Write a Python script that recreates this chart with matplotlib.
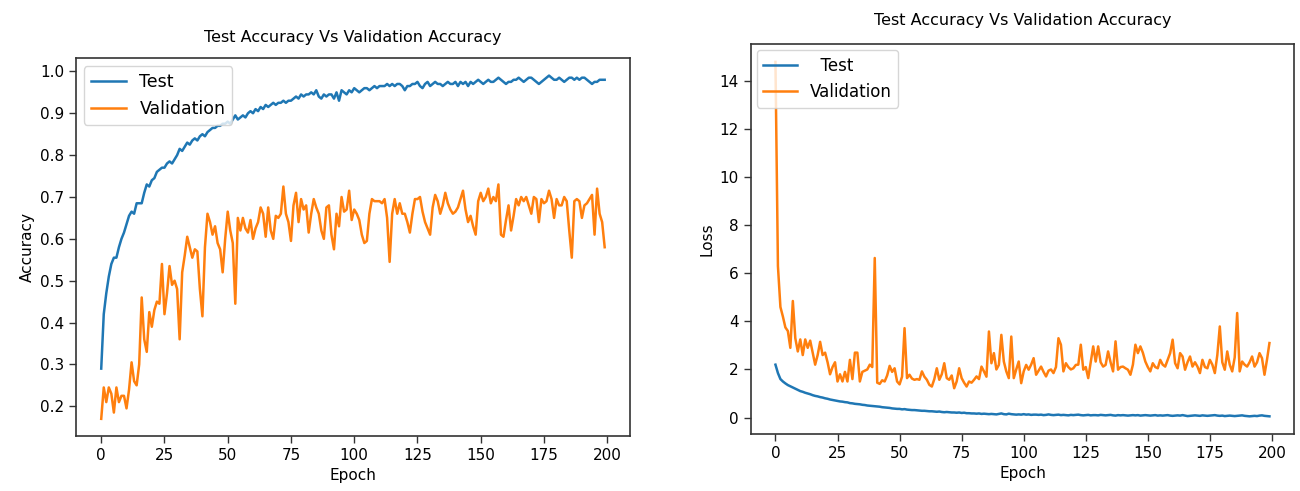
import matplotlib
matplotlib.use("Agg")
import matplotlib.pyplot as plt

epochs = list(range(200))

test_acc = [
    0.29, 0.42, 0.47, 0.51, 0.54, 0.555, 0.555, 0.58, 0.60, 0.615,
    0.635, 0.655, 0.665, 0.66, 0.685, 0.685, 0.685, 0.71, 0.73, 0.725,
    0.74, 0.745, 0.76, 0.765, 0.77, 0.77, 0.78, 0.785, 0.78, 0.79,
    0.80, 0.815, 0.81, 0.82, 0.83, 0.825, 0.835, 0.84, 0.835, 0.845,
    0.85, 0.845, 0.855, 0.86, 0.865, 0.865, 0.87, 0.87, 0.875, 0.875,
    0.88, 0.875, 0.885, 0.895, 0.885, 0.89, 0.895, 0.89, 0.90, 0.905,
    0.90, 0.91, 0.905, 0.915, 0.91, 0.92, 0.915, 0.92, 0.925, 0.92,
    0.925, 0.925, 0.93, 0.925, 0.93, 0.93, 0.935, 0.94, 0.935, 0.945,
    0.94, 0.945, 0.945, 0.95, 0.945, 0.955, 0.94, 0.935, 0.945, 0.94,
    0.945, 0.945, 0.935, 0.95, 0.93, 0.955, 0.95, 0.945, 0.955, 0.95,
    0.96, 0.955, 0.95, 0.955, 0.96, 0.96, 0.955, 0.96, 0.965, 0.96,
    0.965, 0.965, 0.965, 0.97, 0.965, 0.97, 0.965, 0.97, 0.97, 0.965,
    0.955, 0.965, 0.965, 0.97, 0.97, 0.975, 0.965, 0.96, 0.97, 0.975,
    0.965, 0.97, 0.975, 0.97, 0.97, 0.965, 0.97, 0.975, 0.97, 0.97,
    0.975, 0.965, 0.975, 0.97, 0.975, 0.965, 0.975, 0.97, 0.975, 0.98,
    0.975, 0.97, 0.975, 0.98, 0.975, 0.975, 0.98, 0.985, 0.98, 0.975,
    0.97, 0.975, 0.975, 0.98, 0.98, 0.985, 0.98, 0.975, 0.98, 0.985,
    0.985, 0.98, 0.975, 0.97, 0.975, 0.98, 0.985, 0.99, 0.985, 0.98,
    0.98, 0.985, 0.98, 0.975, 0.98, 0.985, 0.985, 0.98, 0.985, 0.98,
    0.985, 0.985, 0.98, 0.975, 0.97, 0.975, 0.975, 0.98, 0.98, 0.98,
]

val_acc = [
    0.17, 0.245, 0.21, 0.245, 0.23, 0.185, 0.245, 0.21, 0.225, 0.225,
    0.195, 0.24, 0.305, 0.26, 0.25, 0.30, 0.46, 0.36, 0.33, 0.425,
    0.39, 0.43, 0.45, 0.445, 0.54, 0.42, 0.47, 0.535, 0.49, 0.50,
    0.48, 0.36, 0.52, 0.56, 0.605, 0.58, 0.555, 0.575, 0.57, 0.48,
    0.415, 0.58, 0.66, 0.64, 0.61, 0.63, 0.59, 0.575, 0.52, 0.60,
    0.665, 0.62, 0.59, 0.445, 0.65, 0.62, 0.65, 0.625, 0.615, 0.645,
    0.60, 0.625, 0.64, 0.675, 0.66, 0.605, 0.675, 0.62, 0.60, 0.655,
    0.65, 0.66, 0.725, 0.66, 0.64, 0.595, 0.68, 0.71, 0.64, 0.695,
    0.67, 0.68, 0.615, 0.66, 0.695, 0.675, 0.66, 0.62, 0.60, 0.675,
    0.68, 0.61, 0.575, 0.66, 0.63, 0.70, 0.665, 0.67, 0.715, 0.645,
    0.67, 0.66, 0.645, 0.61, 0.59, 0.595, 0.66, 0.695, 0.69, 0.69,
    0.69, 0.685, 0.695, 0.65, 0.545, 0.66, 0.695, 0.66, 0.685, 0.66,
    0.66, 0.64, 0.615, 0.66, 0.695, 0.695, 0.70, 0.665, 0.64, 0.625,
    0.61, 0.675, 0.705, 0.69, 0.66, 0.68, 0.71, 0.685, 0.67, 0.66,
    0.665, 0.675, 0.695, 0.715, 0.67, 0.64, 0.655, 0.63, 0.61, 0.69,
    0.71, 0.69, 0.70, 0.72, 0.685, 0.70, 0.69, 0.73, 0.61, 0.605,
    0.645, 0.68, 0.62, 0.655, 0.695, 0.68, 0.70, 0.69, 0.70, 0.68,
    0.66, 0.70, 0.695, 0.64, 0.695, 0.685, 0.69, 0.715, 0.695, 0.65,
    0.695, 0.68, 0.68, 0.70, 0.69, 0.62, 0.555, 0.69, 0.695, 0.69,
    0.65, 0.68, 0.685, 0.695, 0.705, 0.61, 0.72, 0.66, 0.64, 0.58,
]

test_loss = [
    2.2, 1.85, 1.6, 1.5, 1.42, 1.35, 1.3, 1.25, 1.2, 1.15,
    1.1, 1.07, 1.03, 1.0, 0.97, 0.93, 0.9, 0.88, 0.85, 0.83,
    0.8, 0.78, 0.75, 0.73, 0.71, 0.69, 0.67, 0.66, 0.64, 0.63,
    0.6, 0.59, 0.57, 0.56, 0.55, 0.53, 0.52, 0.5, 0.49, 0.48,
    0.47, 0.46, 0.45, 0.43, 0.42, 0.41, 0.4, 0.38, 0.37, 0.36,
    0.36, 0.34, 0.35, 0.33, 0.32, 0.31, 0.31, 0.3, 0.29, 0.28,
    0.28, 0.27, 0.26, 0.26, 0.25, 0.24, 0.25, 0.23, 0.22, 0.23,
    0.22, 0.21, 0.21, 0.2, 0.21, 0.19, 0.2, 0.18, 0.18, 0.17,
    0.17, 0.16, 0.17, 0.15, 0.16, 0.15, 0.14, 0.15, 0.14, 0.13,
    0.15, 0.17, 0.14, 0.13, 0.16, 0.14, 0.13, 0.12, 0.13, 0.12,
    0.14, 0.12, 0.13, 0.11, 0.12, 0.12, 0.11, 0.12, 0.1, 0.11,
    0.13, 0.11, 0.1, 0.11, 0.12, 0.1, 0.11, 0.1, 0.09, 0.11,
    0.1, 0.11, 0.12, 0.1, 0.09, 0.1, 0.11, 0.09, 0.1, 0.1,
    0.09, 0.11, 0.1, 0.09, 0.1, 0.11, 0.09, 0.08, 0.1, 0.09,
    0.1, 0.09, 0.08, 0.09, 0.1, 0.09, 0.1, 0.08, 0.09, 0.1,
    0.09, 0.08, 0.09, 0.1, 0.08, 0.09, 0.08, 0.09, 0.1, 0.08,
    0.07, 0.08, 0.09, 0.08, 0.1, 0.08, 0.06, 0.07, 0.08, 0.09,
    0.08, 0.07, 0.09, 0.08, 0.07, 0.08, 0.09, 0.1, 0.08, 0.07,
    0.08, 0.06, 0.07, 0.08, 0.07, 0.06, 0.07, 0.08, 0.09, 0.07,
    0.06, 0.05, 0.06, 0.07, 0.06, 0.08, 0.09, 0.07, 0.06, 0.05,
]

val_loss = [
    14.8, 6.3, 4.6, 4.2, 3.75, 3.6, 2.9, 4.85, 3.3, 2.75,
    3.25, 2.6, 3.25, 2.9, 3.2, 2.7, 2.2, 2.6, 3.15, 2.6,
    2.7, 2.3, 1.8, 2.1, 2.3, 1.5, 1.8, 1.5, 1.9, 1.5,
    2.4, 1.6, 2.7, 2.7, 1.5, 1.9, 1.95, 2.0, 2.2, 2.1,
    6.64, 1.45, 1.4, 1.55, 1.5, 1.75, 2.15, 1.9, 2.05, 1.5,
    1.38, 1.7, 3.72, 1.64, 1.78, 1.62, 1.57, 1.6, 1.57, 1.92,
    1.7, 1.57, 1.36, 1.29, 1.6, 2.05, 1.57, 1.8, 2.26, 1.64,
    1.57, 1.75, 1.22, 1.5, 2.05, 1.64, 1.45, 1.29, 1.5, 1.45,
    1.57, 1.71, 1.6, 2.12, 1.92, 1.7, 3.58, 2.26, 2.68, 2.0,
    2.19, 3.44, 2.33, 1.92, 1.64, 3.37, 1.64, 2.0, 2.33, 1.43,
    1.92, 2.19, 1.99, 2.2, 2.47, 1.78, 1.95, 2.12, 1.9, 1.71,
    1.95, 2.0, 1.85, 2.1, 3.3, 3.03, 1.92, 2.26, 2.1, 2.0,
    2.05, 2.19, 2.2, 3.03, 1.99, 2.1, 1.64, 2.3, 2.96, 2.33,
    2.96, 2.3, 2.12, 2.19, 2.75, 2.3, 1.92, 3.17, 1.99, 2.1,
    2.12, 2.05, 1.99, 1.78, 2.2, 3.03, 2.68, 2.96, 2.7, 2.33,
    2.1, 1.92, 2.26, 2.1, 2.05, 2.4, 2.2, 2.12, 2.4, 2.68,
    3.24, 2.26, 2.05, 2.68, 2.54, 1.99, 2.3, 2.54, 2.12, 2.3,
    2.12, 1.85, 2.4, 2.1, 2.05, 2.4, 2.2, 1.85, 2.6, 3.79,
    2.3, 1.99, 2.75, 2.2, 1.92, 2.5, 4.35, 1.92, 2.33, 2.2,
    2.12, 2.3, 2.54, 2.12, 2.3, 2.68, 2.47, 1.78, 2.4, 3.1,
]

title = "Test Accuracy Vs Validation Accuracy"

fig = plt.figure(figsize=(13, 4.91), dpi=100)
ax1 = fig.add_axes([0.0585, 0.112, 0.426, 0.769])
ax2 = fig.add_axes([0.5775, 0.116, 0.418, 0.794])

for ax in (ax1, ax2):
    for s in ax.spines.values():
        s.set_color("#333333")
        s.set_linewidth(1.2)
    ax.tick_params(labelsize=11, color="#333333", width=1.0, length=5)

# accuracy
ax1.plot(epochs, test_acc, color="#1f77b4", lw=1.8, label="Test")
ax1.plot(epochs, val_acc, color="#ff7f0e", lw=1.8, label="Validation")
ax1.set_xticks([0, 25, 50, 75, 100, 125, 150, 175, 200])
ax1.set_yticks([0.2, 0.3, 0.4, 0.5, 0.6, 0.7, 0.8, 0.9, 1.0])
ax1.set_title(title, fontsize=11.5, pad=12)
ax1.set_xlabel("Epoch", fontsize=11)
ax1.set_ylabel("Accuracy", fontsize=11)
ax1.legend(loc="upper left", fontsize=12.5, handlelength=2.0,
           borderaxespad=0.45)

# loss
ax2.plot(epochs, test_loss, color="#1f77b4", lw=1.8, label="  Test")
ax2.plot(epochs, val_loss, color="#ff7f0e", lw=1.8, label="Validation")
ax2.set_xticks([0, 25, 50, 75, 100, 125, 150, 175, 200])
ax2.set_yticks([0, 2, 4, 6, 8, 10, 12, 14])
ax2.set_title(title, fontsize=11.5, pad=14)
ax2.set_xlabel("Epoch", fontsize=11)
ax2.set_ylabel("Loss", fontsize=11)
ax2.legend(loc="upper left", fontsize=12, handlelength=2.0,
           borderaxespad=0.35)

fig.savefig("out.png", dpi=100)
